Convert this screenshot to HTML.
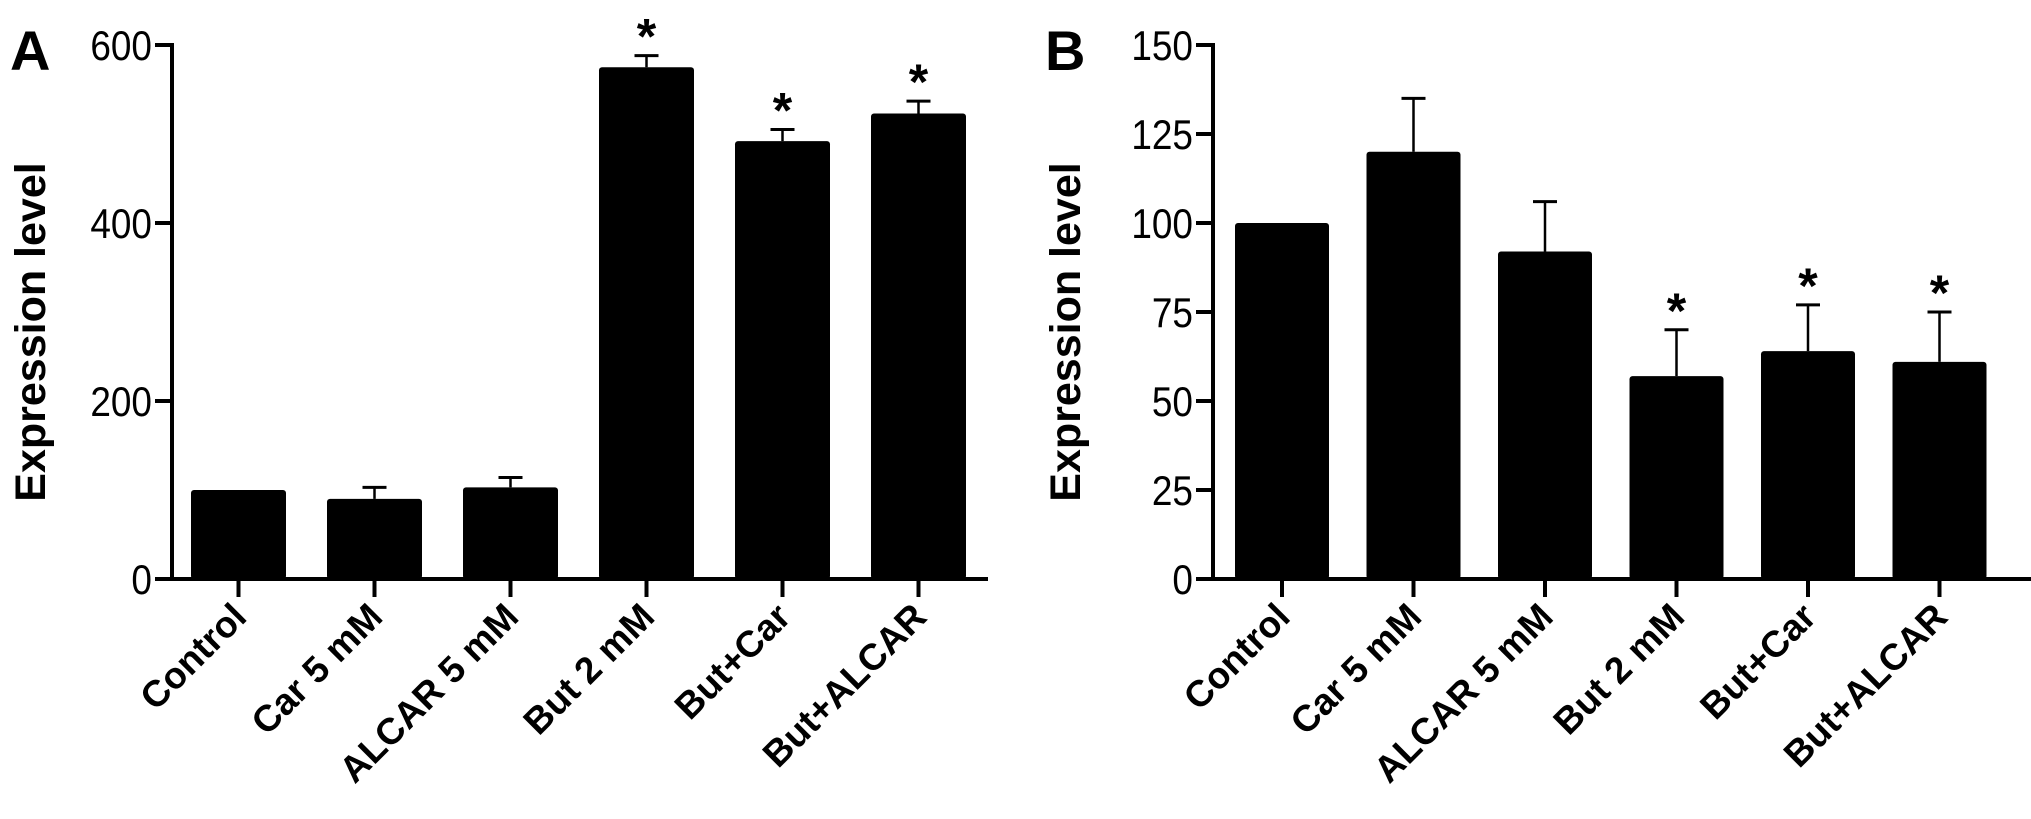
<!DOCTYPE html>
<html><head><meta charset="utf-8"><style>
html,body{margin:0;padding:0;background:#fff;}
svg{display:block;}
text{font-family:"Liberation Sans",sans-serif;fill:#000;}
</style></head><body>
<svg id="fig" width="2031" height="819" viewBox="0 0 2031 819"></svg>
<script>
const categories = ["Control","Car 5 mM","ALCAR 5 mM","But 2 mM","But+Car","But+ALCAR"];
const valuesA = [100, 90, 103, 575, 492, 523];
const errorsA = [0, 13, 11, 13, 13, 14];
const starsA = [false,false,false,true,true,true];
const ticksA = [0, 200, 400, 600];
const valuesB = [100, 120, 92, 57, 64, 61];
const errorsB = [0, 15, 14, 13, 13, 14];
const starsB = [false,false,false,true,true,true];
const ticksB = [0, 25, 50, 75, 100, 125, 150];

const NS = "http://www.w3.org/2000/svg";
const svg = document.getElementById('fig');
function mk(tag, attrs, parent){
  const e = document.createElementNS(NS, tag);
  for (const k in attrs) e.setAttribute(k, attrs[k]);
  (parent||svg).appendChild(e);
  return e;
}

function panel(cfg){
  const g = mk('g', {});
  
  
  const y = v => cfg.y0 - v / cfg.max * (cfg.y0 - cfg.yTop);
  const xStart = i => cfg.barStart + i * cfg.step;

  cfg.values.forEach((v, i) => {
    const b = mk('rect', {x: xStart(i), y: y(v), width: cfg.barW, height: cfg.y0 - y(v), rx: 3, fill: '#000'}, g);
    
    
    const cx = xStart(i) + cfg.barW / 2;
    if (cfg.errors[i] > 0) {
      const top = y(v + cfg.errors[i]);
      const e1 = mk('line', {x1: cx, x2: cx, y1: y(v), y2: top, stroke: '#000', 'stroke-width': 2.5}, g);
      
      
      const e2 = mk('line', {x1: cx - 12, x2: cx + 12, y1: top, y2: top, stroke: '#000', 'stroke-width': 3}, g);
      
      
    }
    if (cfg.stars[i]) {
      const st = mk('text', {x: cx, y: y(v + cfg.errors[i]) - 2, 'font-size': 50, 'font-weight': 'bold', 'text-anchor': 'middle'}, g);
      st.textContent = '*';
      
      
    }
    const t = mk('line', {x1: cx, x2: cx, y1: cfg.y0, y2: cfg.y0 + 18, stroke: '#000', 'stroke-width': 4}, g);
    
    
    const lx = cx + 10, ly = cfg.y0 + 40;
    const lab = mk('text', {x: lx, y: ly, 'font-size': 37, 'font-weight': 'bold', 'text-anchor': 'end', transform: 'rotate(-45 ' + lx + ' ' + ly + ')'}, g);
    lab.textContent = categories[i];
    
    
  });

  const ya = mk('line', {x1: cfg.axisX, x2: cfg.axisX, y1: cfg.yTop - 2, y2: cfg.y0 + 2, stroke: '#000', 'stroke-width': 4}, g);
  
  
  const xa = mk('line', {x1: cfg.axisX - 17, x2: cfg.xEnd, y1: cfg.y0, y2: cfg.y0, stroke: '#000', 'stroke-width': 4}, g);
  
  

  cfg.ticks.forEach(tv => {
    const ty = y(tv);
    const tk = mk('line', {x1: cfg.axisX - 17, x2: cfg.axisX, y1: ty, y2: ty, stroke: '#000', 'stroke-width': 4}, g);
    
    
    const ax = cfg.axisX - 20;
    const tl = mk('text', {x: ax, y: ty + 15, 'font-size': 42, 'text-anchor': 'end', transform: 'translate(' + ax + ' 0) scale(0.88 1) translate(' + (-ax) + ' 0)'}, g);
    tl.textContent = tv;
    
    
  });

  const tx = cfg.titleX, tyc = 332;
  const yt = mk('text', {x: tx, y: tyc, 'font-size': 43, 'font-weight': 'bold', 'text-anchor': 'middle', transform: 'rotate(-90 ' + tx + ' ' + tyc + ')'}, g);
  yt.textContent = 'Expression level';
  
  

  const pl = mk('text', {x: cfg.letterX, y: 70, 'font-size': 56, 'font-weight': 'bold'}, g);
  pl.textContent = cfg.letter;
  
  
}

panel({id: 'a', letter: 'A', letterX: 10, values: valuesA, errors: errorsA, stars: starsA, ticks: ticksA,
  max: 600, y0: 579, yTop: 45, axisX: 172, xEnd: 988, barStart: 191, step: 136, barW: 95, titleX: 45});
panel({id: 'b', letter: 'B', letterX: 1045, values: valuesB, errors: errorsB, stars: starsB, ticks: ticksB,
  max: 150, y0: 579, yTop: 45, axisX: 1213, xEnd: 2031, barStart: 1235, step: 131.5, barW: 94, titleX: 1080});
</script>
</body></html>
